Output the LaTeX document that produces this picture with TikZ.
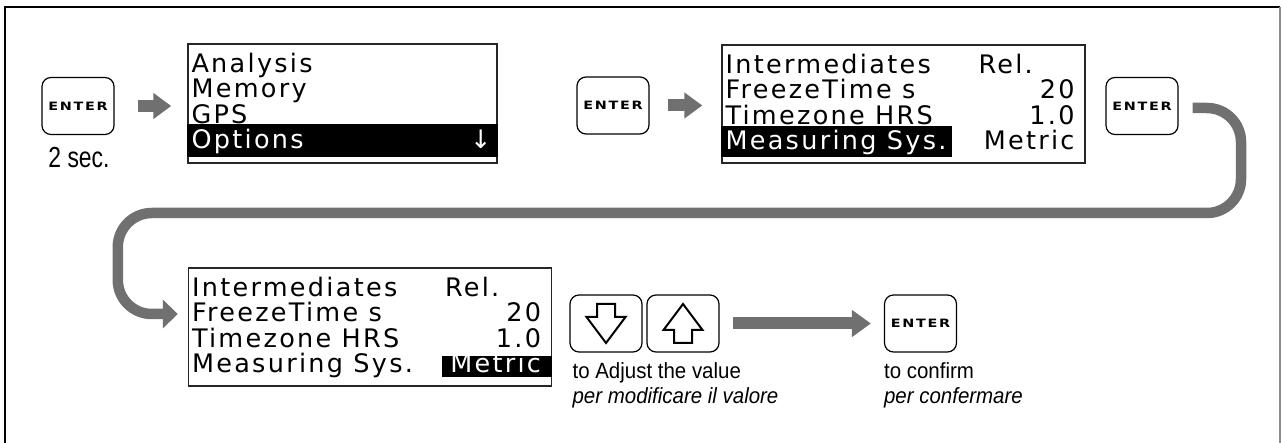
\documentclass[tikz,border=0pt]{standalone}
\usepackage{fontspec}
\setmainfont{Liberation Sans}
\newfontfamily\lcdfont[LetterSpace=9]{DejaVu Sans}
\newfontfamily\keyfont[FakeStretch=1.25,LetterSpace=15]{DejaVu Sans}
\newfontfamily\secfont[FakeStretch=0.79]{Liberation Sans}
\newfontfamily\captfont[FakeStretch=0.93]{Liberation Sans}
\usetikzlibrary{arrows.meta,positioning}
\definecolor{pipegray}{RGB}{112,112,112}
\tikzset{
	keybox/.style={draw, rounded corners=9pt, line width=1.2pt, minimum width=72pt, minimum height=57pt, inner sep=0pt, font=\keyfont\bfseries\fontsize{11.5}{12}\selectfont},
	lcd/.style={draw=black!85, line width=1.4pt, minimum width=363pt, minimum height=118pt, inner sep=0pt},
	lcdtext/.style={inner sep=0pt, font=\lcdfont\fontsize{25.5}{25}\selectfont},
	blockarrow/.style={draw=pipegray, line width=12pt, -{Triangle[length=18pt,width=25pt]}},
	pipe/.style={draw=pipegray, line width=10.5pt, rounded corners=34pt, -{Triangle[length=15pt,width=28pt]}},
	keyglyph/.style={line width=2pt, line join=miter},
	caption/.style={inner sep=0pt, anchor=base west, font=\captfont\fontsize{22}{25}\selectfont}
}

\begin{document}
\begin{tikzpicture}[x=1pt,y=-1pt]
	\def\pitch{25.5}
	\useasboundingbox (0,0) rectangle (1282,443);
	% frame, open at the bottom
	\draw[line width=1.3pt] (5,443) -- (5,7) -- (1280,7);
	\draw[line width=1.3pt, black!45] (1280,7) -- (1280,443);
	% keys
	\node[keybox] (enter_1) at (78,106) {ENTER};
	\node[keybox] (enter_2) at (613,105.5) {ENTER};
	\node[keybox] (enter_3) at (1142,106) {ENTER};
	\node[keybox] (enter_4) at (920.5,323.5) {ENTER};
	\node[keybox] (down) at (606,323.5) {};
	\node[keybox] (up) at (683,323.5) {};
	% hollow arrows on the two keys
	\foreach \k/\s in {down/1,up/-1}
	{
		\draw[keyglyph] ([shift={(-9,{-19.5*\s})}]\k.center) -- ([shift={(9,{-19.5*\s})}]\k.center)
			-- ([shift={(9,{-6.5*\s})}]\k.center) -- ([shift={(19.5,{-6.5*\s})}]\k.center)
			-- ([shift={(0,{19.5*\s})}]\k.center) -- ([shift={(-19.5,{-6.5*\s})}]\k.center)
			-- ([shift={(-9,{-6.5*\s})}]\k.center) -- cycle;
	}
	\node[inner sep=0pt, anchor=base, font=\secfont\fontsize{29}{30}\selectfont] (hold) at ([shift={(1,32.5)}]enter_1.south) {2 sec.};
	% first display: menu
	\node[lcd, minimum width=309pt, minimum height=119pt] (disp_1) at (342.5,103.5) {};
	\fill ([shift={(0,81)}]disp_1.north west) rectangle ([shift={(0,114)}]disp_1.north east);
	\foreach \txt [count=\i] in {Analysis,Memory,GPS}
	{
		\node[lcdtext, anchor=base west] (menu_\i) at ([shift={(4,{29+\pitch*(\i-1)})}]disp_1.north west) {\txt};
	}
	\node[lcdtext, anchor=base west, text=white] (menu_4) at ([shift={(4,{29+3*\pitch})}]disp_1.north west) {Options};
	\node[lcdtext, anchor=base east, text=white] (scroll) at ([shift={(-6,{29+3*\pitch})}]disp_1.north east) {↓};
	% second and third display: options
	\node[lcd] (disp_2) at (903.5,104) {};
	\node[lcd] (disp_3) at (370,327) {};
	\fill ([shift={(0,82)}]disp_2.north west) rectangle ([shift={(231,113)}]disp_2.north west);
	\fill ([shift={(-110,89)}]disp_3.north east) rectangle ([shift={(0,110)}]disp_3.north east);
	\foreach \d in {2,3}
	{
		\foreach \txt [count=\i] in {Intermediates,FreezeTime s,Timezone HRS}
		{
			\node[lcdtext, anchor=base west] (opt_\d_\i) at ([shift={(4,{29+\pitch*(\i-1)})}]disp_\d.north west) {\txt};
		}
		\node[lcdtext, anchor=base west] (rel_\d) at ([shift={(257,29)}]disp_\d.north west) {Rel.};
		\foreach \val [count=\i from 2] in {20,1.0}
		{
			\node[lcdtext, anchor=base east] (val_\d_\i) at ([shift={(-11,{29+\pitch*(\i-1)})}]disp_\d.north east) {\val};
		}
	}
	\node[lcdtext, anchor=base west, text=white] (opt_2_4) at ([shift={(4,{29+3*\pitch})}]disp_2.north west) {Measuring Sys.};
	\node[lcdtext, anchor=base east] (val_2_4) at ([shift={(-11,{29+3*\pitch})}]disp_2.north east) {Metric};
	\node[lcdtext, anchor=base west] (opt_3_4) at ([shift={(4,{29+3*\pitch})}]disp_3.north west) {Measuring Sys.};
	\node[lcdtext, anchor=base east, text=white] (val_3_4) at ([shift={(-11,{29+3*\pitch})}]disp_3.north east) {Metric};
	% captions
	\node[caption] (adjust_en) at ([shift={(3,26)}]down.south west) {to Adjust the value};
	\node[caption, font=\captfont\itshape\fontsize{22}{25}\selectfont] (adjust_it) at ([shift={(0,25)}]adjust_en.base west) {per modificare il valore};
	\node[caption] (confirm_en) at ([shift={(0,26)}]enter_4.south west) {to confirm};
	\node[caption, font=\captfont\itshape\fontsize{22}{25}\selectfont] (confirm_it) at ([shift={(0,25)}]confirm_en.base west) {per confermare};
	% arrows
	\draw[blockarrow, shorten <=23pt, shorten >=16pt] (enter_1.east) -- (enter_1.east -| disp_1.west);
	\draw[blockarrow, shorten <=18pt, shorten >=19pt] (enter_2.east) -- (enter_2.east -| disp_2.west);
	\draw[blockarrow, -{Triangle[length=19pt,width=26pt]}, shorten <=13pt, shorten >=13pt] (up.east) -- (enter_4.west);
	\draw[pipe] ([shift={(14,2)}]enter_3.east) -| (1241,213) -| ([shift={(-70,-13)}]disp_3.west) -- ([shift={(-10,-13)}]disp_3.west);
\end{tikzpicture}
\end{document}
